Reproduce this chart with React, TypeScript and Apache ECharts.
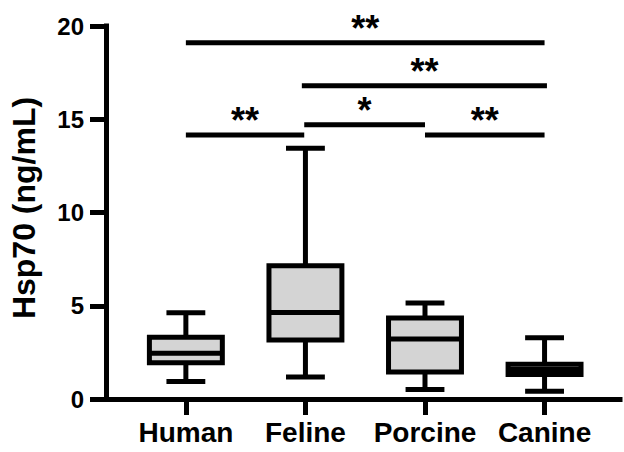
import React, { useEffect, useRef } from 'react';
import * as echarts from 'echarts';

// ---- data ----
const categories = ['Human', 'Feline', 'Porcine', 'Canine'];
const whiskerLow = [0.94, 1.18, 0.51, 0.41];
const quartile1 = [1.94, 3.17, 1.45, 1.31];
const medians = [2.45, 4.64, 3.22, 1.585];
const quartile3 = [3.31, 7.15, 4.34, 1.86];
const whiskerHigh = [4.63, 13.45, 5.15, 3.28];

const yMin = 0;
const yMax = 20;
const yStep = 5;

// significance brackets: from category, to category, height, label
const sigFrom = [0, 0.97, 0.99, 0, 2];
const sigTo = [3, 3.02, 2, 0.99, 3];
const sigLevel = [19.1, 16.8, 14.7, 14.16, 14.16];
const sigText = ['**', '**', '*', '**', '**'];

const FONT = 'Liberation Sans, Arial, Helvetica, sans-serif';

export default function App() {
  const ref = useRef<HTMLDivElement>(null);

  useEffect(() => {
    if (!ref.current) return;
    const chart = echarts.init(ref.current, undefined, { renderer: 'svg' });

    const boxData = categories.map((_, i) => [
      i,
      whiskerLow[i],
      quartile1[i],
      medians[i],
      quartile3[i],
      whiskerHigh[i],
    ]);
    const sigData = sigFrom.map((f, i) => [f, sigTo[i], sigLevel[i], i]);

    const option: any = {
      animation: false,
      backgroundColor: '#ffffff',
      grid: { left: 105, right: 4, top: 26, bottom: 53, containLabel: false },
      xAxis: {
        type: 'value',
        min: -0.668,
        max: 3.631,
        splitLine: { show: false },
        axisLine: { show: true, onZero: false, lineStyle: { color: '#000', width: 5, cap: 'square' } },
        axisTick: {
          show: true,
          customValues: [0, 1, 2, 3],
          length: 16,
          lineStyle: { color: '#000', width: 5 },
        },
        axisLabel: {
          customValues: [0, 1, 2, 3],
          formatter: (v: number) => categories[Math.round(v)] ?? '',
          fontSize: 28,
          fontWeight: 'bold',
          color: '#000',
          fontFamily: FONT,
          margin: 19,
        },
      },
      yAxis: {
        type: 'value',
        min: yMin,
        max: yMax,
        interval: yStep,
        splitLine: { show: false },
        axisLine: { show: true, onZero: false, lineStyle: { color: '#000', width: 5, cap: 'square' } },
        axisTick: { show: true, length: 16, lineStyle: { color: '#000', width: 5 } },
        axisLabel: {
          fontSize: 24,
          fontWeight: 'bold',
          color: '#000',
          fontFamily: FONT,
          margin: 22,
        },
        name: 'Hsp70 (ng/mL)',
        nameLocation: 'middle',
        nameGap: 66,
        nameTextStyle: {
          fontSize: 32,
          fontWeight: 'bold',
          color: '#000',
          fontFamily: FONT,
          padding: [0, 0, 0, 9],
        },
      },
      series: [
        {
          type: 'custom',
          name: 'box',
          clip: false,
          encode: { x: 0, y: [1, 2, 3, 4, 5] },
          data: boxData,
          renderItem: (params: any, api: any) => {
            const xi = api.value(0);
            const pMin = api.coord([xi, api.value(1)]);
            const pQ1 = api.coord([xi, api.value(2)]);
            const pMed = api.coord([xi, api.value(3)]);
            const pQ3 = api.coord([xi, api.value(4)]);
            const pMax = api.coord([xi, api.value(5)]);
            const unit = api.size([1, 0])[0];
            const half = (unit * 0.61) / 2;
            const capHalf = (unit * 0.325) / 2;
            const cx = pQ1[0];
            const ls = { stroke: '#000', lineWidth: 5 };
            return {
              type: 'group',
              children: [
                { type: 'line', shape: { x1: cx, y1: pMax[1], x2: cx, y2: pQ3[1] }, style: ls },
                { type: 'line', shape: { x1: cx, y1: pQ1[1], x2: cx, y2: pMin[1] }, style: ls },
                { type: 'line', shape: { x1: cx - capHalf, y1: pMax[1], x2: cx + capHalf, y2: pMax[1] }, style: ls },
                { type: 'line', shape: { x1: cx - capHalf, y1: pMin[1], x2: cx + capHalf, y2: pMin[1] }, style: ls },
                {
                  type: 'rect',
                  shape: { x: cx - half, y: pQ3[1], width: half * 2, height: pQ1[1] - pQ3[1] },
                  style: { fill: '#d4d4d4', stroke: '#000', lineWidth: 5, lineJoin: 'miter' },
                },
                { type: 'line', shape: { x1: cx - half, y1: pMed[1], x2: cx + half, y2: pMed[1] }, style: ls },
              ],
            };
          },
        },
        {
          type: 'custom',
          name: 'significance',
          clip: false,
          encode: { x: [0, 1], y: 2 },
          data: sigData,
          renderItem: (params: any, api: any) => {
            const a = api.coord([api.value(0), api.value(2)]);
            const b = api.coord([api.value(1), api.value(2)]);
            const idx = api.value(3);
            return {
              type: 'group',
              children: [
                { type: 'line', shape: { x1: a[0], y1: a[1], x2: b[0], y2: b[1] }, style: { stroke: '#000', lineWidth: 5 } },
                {
                  type: 'text',
                  style: {
                    text: sigText[idx],
                    x: (a[0] + b[0]) / 2,
                    y: a[1] - 14,
                    textAlign: 'center',
                    textVerticalAlign: 'middle',
                    fontSize: 36,
                    fontWeight: 'bold',
                    fontFamily: FONT,
                    fill: '#000',
                  },
                },
              ],
            };
          },
        },
      ],
    };

    chart.setOption(option);
    return () => chart.dispose();
  }, []);

  return (
    <div
      ref={ref}
      style={{ position: 'fixed', left: 0, top: 0, width: 624, height: 452, background: '#fff' }}
    />
  );
}
